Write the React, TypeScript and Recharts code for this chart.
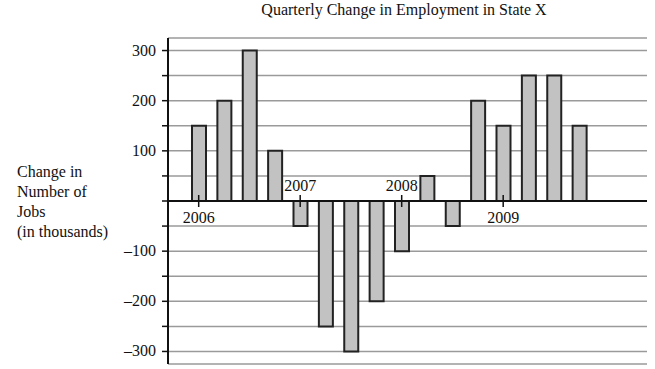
import { Bar, BarChart, CartesianGrid, ReferenceLine, XAxis, YAxis } from "recharts";

const quarters = [
  "2006 Q1", "2006 Q2", "2006 Q3", "2006 Q4",
  "2007 Q1", "2007 Q2", "2007 Q3", "2007 Q4",
  "2008 Q1", "2008 Q2", "2008 Q3", "2008 Q4",
  "2009 Q1", "2009 Q2", "2009 Q3", "2009 Q4",
];
const jobChange = [150, 200, 300, 100, -50, -250, -300, -200, -100, 50, -50, 200, 150, 250, 250, 150];
const yTicks = [-300, -250, -200, -150, -100, -50, 0, 50, 100, 150, 200, 250, 300];
const yearMarks = [
  { quarter: "2006 Q1", label: "2006", side: "bottom" },
  { quarter: "2007 Q1", label: "2007", side: "top" },
  { quarter: "2008 Q1", label: "2008", side: "top" },
  { quarter: "2009 Q1", label: "2009", side: "bottom" },
];

const data = quarters.map((q, i) => ({ quarter: q, value: jobChange[i] }));

const serif = "Liberation Serif";

const fmtTick = (v: number) => (v !== 0 && v % 100 === 0 ? (v < 0 ? `–${-v}` : `${v}`) : "");

const YTick = (props: any) => {
  const { x, y, payload } = props;
  return (
    <text x={x} y={y} dy={5} textAnchor="end" fill="#111" fontFamily={serif} fontSize={16}>
      {fmtTick(payload.value)}
    </text>
  );
};

const yearLabel = (text: string, side: string) => (props: any) => {
  const vb = props.viewBox || {};
  const cx = vb.x + (vb.width || 0) / 2;
  const y = side === "top" ? vb.y - 4 : vb.y + (vb.height || 0) + 16;
  return (
    <text x={cx} y={y} textAnchor="middle" fill="#111" fontFamily={serif} fontSize={16}>
      {text}
    </text>
  );
};

export default function App() {
  return (
    <div style={{ position: "absolute", left: 0, top: 0, width: 655, height: 369, background: "#fff", fontFamily: serif }}>
      <div style={{ position: "absolute", left: 204, top: 1, width: 400, textAlign: "center", fontSize: 16, color: "#111" }}>
        Quarterly Change in Employment in State X
      </div>
      <div style={{ position: "absolute", left: 17, top: 162, fontSize: 16, lineHeight: "20px", color: "#111" }}>
        Change in
        <br />
        Number of
        <br />
        Jobs
        <br />
        (in thousands)
      </div>
      <BarChart
        width={655}
        height={369}
        data={data}
        margin={{ top: 38, right: 8, bottom: 5, left: 0 }}
        barSize={14}
        style={{ fontFamily: serif }}
      >
        <CartesianGrid horizontal vertical={false} stroke="#9a9a9a" strokeWidth={1.5} />
        <XAxis dataKey="quarter" hide padding={{ left: 18, right: 55 }} />
        <YAxis
          width={168}
          domain={[-325, 325]}
          ticks={yTicks}
          interval={0}
          axisLine={{ stroke: "#111", strokeWidth: 2 }}
          tickLine={{ stroke: "#111", strokeWidth: 1.5 }}
          tickSize={6}
          tickMargin={6}
          tick={YTick}
        />
        <Bar dataKey="value" fill="#c2c2c2" stroke="#222" strokeWidth={2} isAnimationActive={false} />
        <ReferenceLine y={0} stroke="#111" strokeWidth={2} />
        {yearMarks.map((m) => (
          <ReferenceLine
            key={m.label}
            segment={[
              { x: m.quarter, y: -12 },
              { x: m.quarter, y: 12 },
            ]}
            stroke="#111"
            strokeWidth={1.5}
            label={yearLabel(m.label, m.side)}
          />
        ))}
      </BarChart>
    </div>
  );
}
